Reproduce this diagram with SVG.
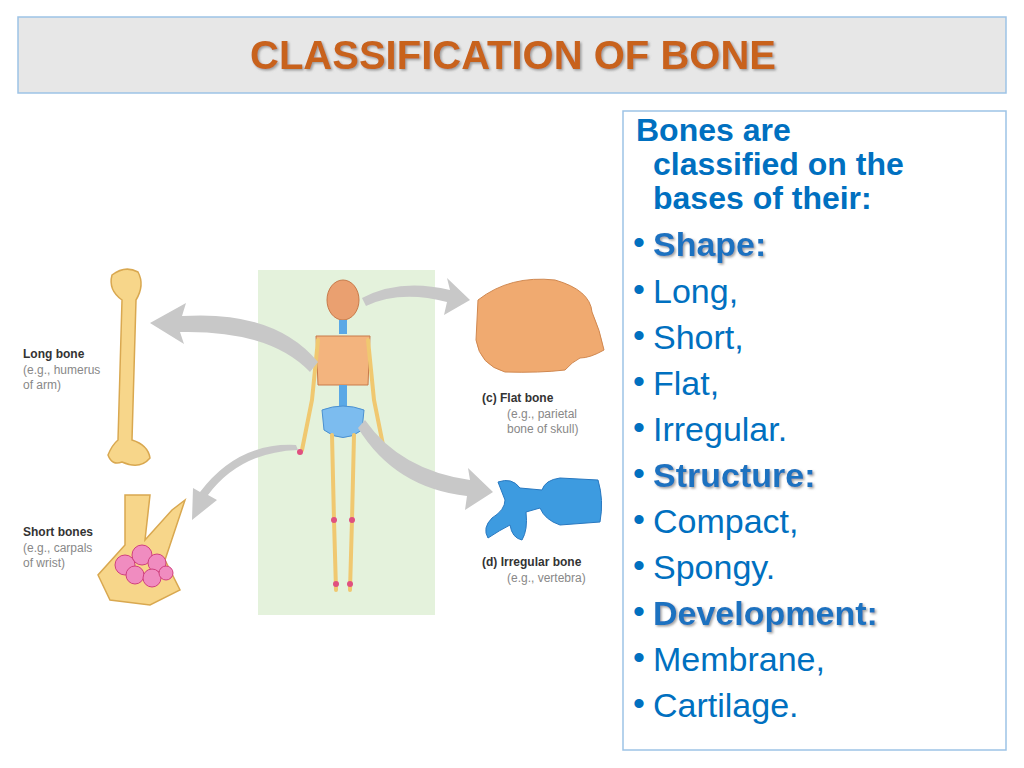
<svg xmlns="http://www.w3.org/2000/svg" width="1024" height="768" viewBox="0 0 1024 768">
<defs>
<style>
.t{font-family:"Liberation Sans",Arial,sans-serif;fill:#0070c0;font-size:34px}
.h{font-family:"Liberation Sans",Arial,sans-serif;fill:#0070c0;font-size:32px;font-weight:bold}
.b{font-weight:bold;fill:#1f72c0}
.lb{font-family:"Liberation Sans",Arial,sans-serif;font-size:12px;font-weight:bold;fill:#333}
.lg{font-family:"Liberation Sans",Arial,sans-serif;font-size:12px;fill:#888}
.bone{fill:#f7d68a;stroke:#d9a850;stroke-width:1.5}
.arr{fill:#c8c8c8}
</style>
<filter id="sh"><feDropShadow dx="1.5" dy="1.5" stdDeviation="0.8" flood-color="#888" flood-opacity="0.8"/></filter>
</defs>
<rect width="1024" height="768" fill="#fff"/>
<g id="title">
<rect x="18" y="17" width="988" height="76" fill="#e7e7e7" stroke="#9dc3e6" stroke-width="1.5"/>
<text x="513" y="69" text-anchor="middle" font-family="Liberation Sans,Arial,sans-serif" font-weight="bold" font-size="40" fill="#c8621c" filter="url(#sh)">CLASSIFICATION OF BONE</text>
</g>
<g id="textbox">
<rect x="623" y="111" width="383" height="639" fill="#fff" stroke="#9dc3e6" stroke-width="1.5"/>
<text class="h" x="636" y="141">Bones are</text>
<text class="h" x="653" y="175">classified on the</text>
<text class="h" x="653" y="209">bases of their:</text>
<g class="t" font-size="26">
<text x="633" y="254">•</text><text x="633" y="301">•</text><text x="633" y="347">•</text><text x="633" y="393">•</text><text x="633" y="439">•</text><text x="633" y="485">•</text><text x="633" y="531">•</text><text x="633" y="577">•</text><text x="633" y="623">•</text><text x="633" y="669">•</text><text x="633" y="715">•</text>
</g>
<text class="t b" x="653" y="256" filter="url(#sh)">Shape:</text>
<text class="t" x="653" y="303">Long,</text>
<text class="t" x="653" y="349">Short,</text>
<text class="t" x="653" y="395">Flat,</text>
<text class="t" x="653" y="441">Irregular.</text>
<text class="t b" x="653" y="487" filter="url(#sh)">Structure:</text>
<text class="t" x="653" y="533">Compact,</text>
<text class="t" x="653" y="579">Spongy.</text>
<text class="t b" x="653" y="625" filter="url(#sh)">Development:</text>
<text class="t" x="653" y="671">Membrane,</text>
<text class="t" x="653" y="717">Cartilage.</text>
</g>
<g id="skeleton">
<rect x="258" y="270" width="177" height="345" fill="#e4f2dc"/>
<ellipse cx="343" cy="300" rx="16" ry="20" fill="#eaa070" stroke="#c87a4a"/>
<rect x="339" y="320" width="8" height="14" fill="#5aa8e6"/>
<path d="M316 336 L370 336 L368 385 L318 385 Z" fill="#f3b47e" stroke="#c87a4a"/>
<rect x="339" y="385" width="8" height="26" fill="#5aa8e6"/>
<path d="M322 410 Q343 402 364 410 L362 430 Q343 445 324 430 Z" fill="#7cbcef" stroke="#4a90d0"/>
<g fill="none" stroke="#f0c870" stroke-width="4" stroke-linecap="round">
<path d="M318 340 L312 400 L302 450"/><path d="M368 340 L374 400 L384 450"/>
<path d="M332 435 L334 520 L336 590"/><path d="M354 435 L352 520 L350 590"/>
</g>
<g fill="#e05080"><circle cx="300" cy="452" r="3"/><circle cx="385" cy="452" r="3"/><circle cx="334" cy="520" r="3"/><circle cx="352" cy="520" r="3"/><circle cx="336" cy="584" r="3"/><circle cx="350" cy="584" r="3"/></g>
</g>
<g id="arrows">
<path class="arr" d="M310 372 Q270 330 180 332 L184 344 L150 323 L186 303 L182 316 Q275 310 318 362 Z"/>
<path class="arr" d="M362 298 Q400 278 450 290 L447 278 L470 300 L444 315 L447 302 Q400 290 366 306 Z"/>
<path class="arr" d="M298 450 Q240 452 208 495 L217 500 L192 520 L193 488 L200 492 Q238 442 296 445 Z"/>
<path class="arr" d="M365 420 Q400 470 470 480 L468 468 L493 492 L465 510 L467 496 Q395 488 358 428 Z"/>
</g>
<g id="long">
<path class="bone" d="M112 275 Q125 265 138 272 Q145 285 136 300 L132 440 Q148 445 150 458 Q140 470 122 462 Q112 466 108 455 Q112 445 118 440 L122 300 Q108 290 112 275 Z"/>
<text class="lb" x="23" y="358">Long bone</text>
<text class="lg" x="23" y="374">(e.g., humerus</text>
<text class="lg" x="23" y="389">of arm)</text>
</g>
<g id="short">
<path class="bone" d="M125 495 L150 495 L145 540 L172 510 L185 500 L165 560 L180 590 L150 605 L110 600 L98 575 L125 545 Z"/>
<g fill="#f08cc0" stroke="#d04080"><circle cx="125" cy="565" r="10"/><circle cx="142" cy="555" r="10"/><circle cx="157" cy="563" r="9"/><circle cx="135" cy="575" r="9"/><circle cx="152" cy="578" r="9"/><circle cx="166" cy="573" r="7"/></g>
<text class="lb" x="23" y="536">Short bones</text>
<text class="lg" x="23" y="552">(e.g., carpals</text>
<text class="lg" x="23" y="567">of wrist)</text>
</g>
<g id="flat">
<path d="M478 300 Q510 275 555 280 Q590 290 592 312 Q600 330 604 350 Q590 358 580 358 Q572 362 565 370 Q540 373 505 372 Q480 365 476 340 Z" fill="#f0aa70" stroke="#d08850"/>
<text class="lb" x="482" y="402">(c)  Flat bone</text>
<text class="lg" x="507" y="418">(e.g., parietal</text>
<text class="lg" x="507" y="433">bone of skull)</text>
</g>
<g id="irregular">
<path d="M498 482 Q512 477 520 488 L542 490 Q545 480 560 478 L598 480 Q604 500 600 522 L560 525 Q545 520 540 508 L526 512 Q528 530 522 540 Q512 538 510 525 Q500 530 488 538 Q482 528 492 518 Q505 510 505 500 Z" fill="#3d9be0" stroke="#2878c0"/>
<text class="lb" x="482" y="566">(d)  Irregular bone</text>
<text class="lg" x="507" y="582">(e.g., vertebra)</text>
</g>
</svg>
